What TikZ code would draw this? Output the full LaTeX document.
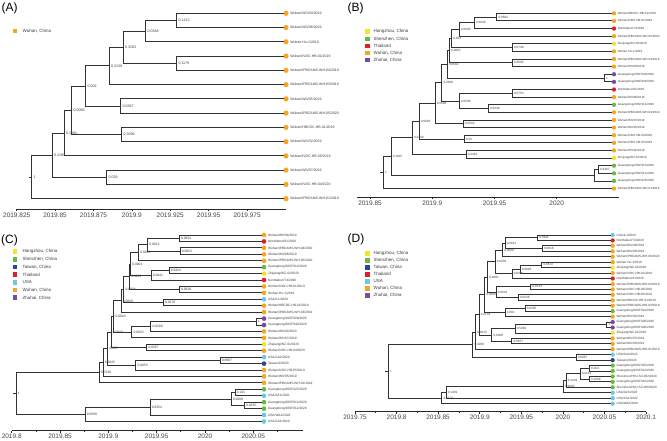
\documentclass[tikz,border=0pt]{standalone}
\usepackage{fontspec}
\setmainfont{Liberation Sans}
\usetikzlibrary{calc}
\definecolor{cWu}{RGB}{245,166,35}
\definecolor{cHz}{RGB}{236,230,45}
\definecolor{cSz}{RGB}{106,184,69}
\definecolor{cTh}{RGB}{220,32,39}
\definecolor{cTw}{RGB}{45,68,155}
\definecolor{cUS}{RGB}{108,200,228}
\definecolor{cZh}{RGB}{117,77,158}
\definecolor{brc}{RGB}{50,50,50}
\definecolor{txc}{RGB}{60,60,60}
\definecolor{axc}{RGB}{40,40,40}
\definecolor{axt}{RGB}{70,70,70}
\newdimen\tya \newdimen\tyb
\newcommand\tipnode[5]{\node[tipdot,fill=#4] (#1) at (#2,#3) {};\node[tiplab] (#1-l) at ([xshift=1.3]#1.east) {#5};}
\newcommand\linkmid[4]{%
  \pgfextracty{\tya}{\pgfpointanchor{#3}{center}}%
  \pgfextracty{\tyb}{\pgfpointanchor{#4}{center}}%
  \pgfmathsetmacro\midy{0.5*\tya+0.5*\tyb}%
  \coordinate (#1) at (#2pt,\midy pt);%
  \draw[br] (#1) |- (#3);%
  \draw[br] (#1) |- (#4);}
\newcommand\innode[5]{\linkmid{#1}{#2}{#3}{#4}\node[nlab] (#1-l) at (#1) {#5};}
\tikzset{
 br/.style={draw=brc, line width=0.85pt, line cap=rect},
 tipdot/.style={circle, inner sep=0pt, minimum size=4.6pt, draw=none},
 tiplab/.style={anchor=west, inner sep=0pt, font=\fontsize{3.2}{3.5}\selectfont, text=txc},
 nlab/.style={anchor=west, inner sep=0pt, xshift=1.6pt, font=\fontsize{3.3}{3.6}\selectfont, text=txc},
 ax/.style={draw=axc, line width=0.7pt},
 axlab/.style={inner sep=0pt, font=\fontsize{6.5}{7}\selectfont, text=axt},
 lgsq/.style={rectangle, inner sep=0pt, minimum size=4.6pt},
 lgtx/.style={anchor=west, inner sep=0pt, font=\fontsize{4.5}{5}\selectfont, text=txc},
 plab/.style={anchor=west, inner sep=0pt, font=\fontsize{12}{14}\selectfont},
}
\begin{document}
\begin{tikzpicture}[x=1pt,y=-1pt]
\useasboundingbox (0,0) rectangle (667,440);
\fill[white] (0,0) rectangle (667,440);
% ================= PANEL A =================
\begin{scope}[tiplab/.append style={font=\fontsize{3.5}{4}\selectfont}, tipdot/.append style={minimum size=5.2pt}, nlab/.append style={font=\fontsize{3.6}{4}\selectfont}]
\node[plab] (A-lab) at (1.5,8.5) {(A)};
\node[lgsq,fill=cWu] (A-lg1) at (15,31) {};
\node[lgtx] (A-lg1t) at (22.5,31) {Wuhan, China};
\tipnode{A-t1}{286}{13.30}{cWu}{Wuhan/WIV04/2019}
\tipnode{A-t2}{286}{27.56}{cWu}{Wuhan/WIV06/2019}
\tipnode{A-t3}{286}{41.82}{cWu}{Wuhan-Hu-1/2019}
\tipnode{A-t4}{286}{56.08}{cWu}{Wuhan/IVDC-HB-01/2019}
\tipnode{A-t5}{286}{70.34}{cWu}{Wuhan/IPBCAMS-WH-04/2019}
\tipnode{A-t6}{286}{84.60}{cWu}{Wuhan/IPBCAMS-WH-03/2019}
\tipnode{A-t7}{286}{98.86}{cWu}{Wuhan/WIV05/2019}
\tipnode{A-t8}{286}{113.12}{cWu}{Wuhan/IPBCAMS-WH-05/2020}
\tipnode{A-t9}{286}{127.38}{cWu}{Wuhan/HBCDC-HB-01/2019}
\tipnode{A-t10}{286}{141.64}{cWu}{Wuhan/WIV02/2019}
\tipnode{A-t11}{286}{155.90}{cWu}{Wuhan/IVDC-HB-05/2019}
\tipnode{A-t12}{286}{170.16}{cWu}{Wuhan/WIV07/2019}
\tipnode{A-t13}{286}{184.42}{cWu}{Wuhan/IVDC-HB-04/2020}
\tipnode{A-t14}{286}{198.68}{cWu}{Wuhan/IPBCAMS-WH-01/2019}
\innode{A-n1213}{176.7}{A-t1}{A-t2}{0.1213}
\innode{A-n0348}{145.7}{A-n1213}{A-t3}{0.0348}
\innode{A-n1179}{176.7}{A-t4}{A-t5}{0.1179}
\innode{A-n3203}{123.3}{A-n0348}{A-n1179}{0.3203}
\innode{A-n3139}{109.3}{A-n3203}{A-t6}{0.3139}
\innode{A-n0367}{120.7}{A-t7}{A-t8}{0.0367}
\innode{A-n002}{85.7}{A-n3139}{A-n0367}{0.002}
\innode{A-n3098}{121.7}{A-t9}{A-t10}{0.3098}
\innode{A-n0066}{71.7}{A-n002}{A-n3098}{0.0066}
\innode{A-n1081}{64.3}{A-n0066}{A-t11}{0.1081}
\innode{A-n039}{106.7}{A-t12}{A-t13}{0.039}
\innode{A-n2189}{52.3}{A-n1081}{A-n039}{0.2189}
\innode{A-root}{31.7}{A-n2189}{A-t14}{1}
\coordinate (A-stub) at ($(A-root)+(-2.5,0)$);
\draw[br] (A-root) -- (A-stub);
\coordinate (A-ax0) at (16.7,209);
\coordinate (A-ax1) at (286,209);
\draw[ax] (A-ax0) -- (A-ax1);
\foreach \xx/\lab [count=\k] in {16.7/2019.825,55.1/2019.85,93.5/2019.875,131.9/2019.9,170.3/2019.925,208.7/2019.95,247.1/2019.975}{
  \draw[ax] (\xx,209) -- (\xx,211);
  \node[axlab] (A-tk\k) at (\xx,215.5) {\lab};}
\foreach \xx in {35.9,74.3,112.7,151.1,189.5,227.9,266.3}{\draw[ax] (\xx,209) -- (\xx,210.2);}
\end{scope}
% ================= PANEL B =================
\begin{scope}[tiplab/.append style={font=\fontsize{3.0}{3.3}\selectfont}, tipdot/.append style={minimum size=4.3pt}, nlab/.append style={font=\fontsize{3.1}{3.4}\selectfont}]
\node[plab] (B-lab) at (347.5,8.5) {(B)};
\foreach \col/\txt/\yy [count=\k] in {cHz/{Hangzhou, China}/31.7, cSz/{Shenzhen, China}/38.8, cTh/Thailand/45.9, cWu/{Wuhan, China}/53.0, cZh/{Zhuhai, China}/60.1}{
  \node[lgsq,fill=\col] (B-lg\k) at (367.7,\yy) {};
  \node[lgtx] (B-lg\k t) at (373.5,\yy) {\txt};}
\tipnode{B-t1}{614}{13.30}{cWu}{Wuhan/HBCDC-HB-01/2019}
\tipnode{B-t2}{614}{20.92}{cWu}{Wuhan/IVDC-HB-01/2019}
\tipnode{B-t3}{614}{28.54}{cTh}{Nonthaburi/74/2020}
\tipnode{B-t4}{614}{36.16}{cWu}{Wuhan/IPBCAMS-WH-05/2020}
\tipnode{B-t5}{614}{43.78}{cHz}{Zhejiang/WZ-02/2020}
\tipnode{B-t6}{614}{51.40}{cWu}{Wuhan-Hu-1/2019}
\tipnode{B-t7}{614}{59.02}{cWu}{Wuhan/IPBCAMS-WH-04/2019}
\tipnode{B-t8}{614}{66.64}{cWu}{Wuhan/WIV04/2019}
\tipnode{B-t9}{614}{74.26}{cZh}{Guangdong/20SF040/2020}
\tipnode{B-t10}{614}{81.88}{cZh}{Guangdong/20SF028/2020}
\tipnode{B-t11}{614}{89.50}{cTh}{Nonthaburi/61/2020}
\tipnode{B-t12}{614}{97.12}{cWu}{Wuhan/WIV06/2019}
\tipnode{B-t13}{614}{104.74}{cSz}{Guangdong/20SF014/2020}
\tipnode{B-t14}{614}{112.36}{cWu}{Wuhan/IPBCAMS-WH-03/2019}
\tipnode{B-t15}{614}{119.98}{cWu}{Wuhan/WIV07/2019}
\tipnode{B-t16}{614}{127.60}{cWu}{Wuhan/WIV05/2019}
\tipnode{B-t17}{614}{135.22}{cWu}{Wuhan/IVDC-HB-04/2020}
\tipnode{B-t18}{614}{142.84}{cWu}{Wuhan/IVDC-HB-05/2019}
\tipnode{B-t19}{614}{150.46}{cWu}{Wuhan/WIV02/2019}
\tipnode{B-t20}{614}{158.08}{cHz}{Zhejiang/WZ-01/2020}
\tipnode{B-t21}{614}{165.70}{cSz}{Guangdong/20SF013/2020}
\tipnode{B-t22}{614}{173.32}{cSz}{Guangdong/20SF012/2020}
\tipnode{B-t23}{614}{180.94}{cSz}{Guangdong/20SF025/2020}
\tipnode{B-t24}{614}{188.56}{cWu}{Wuhan/IPBCAMS-WH-01/2019}
\innode{B-p12}{496.7}{B-t1}{B-t2}{0.0502}
\innode{B-n13}{474.3}{B-p12}{B-t3}{0.0048}
\innode{B-n14}{459.3}{B-n13}{B-t4}{0.0006}
\innode{B-p56}{512.3}{B-t5}{B-t6}{0.0748}
\innode{B-n16}{451.5}{B-n14}{B-p56}{0.002}
\innode{B-p78}{512.3}{B-t7}{B-t8}{0.3695}
\innode{B-n18}{449.5}{B-n16}{B-p78}{0.0001}
\innode{B-p910}{604.3}{B-t9}{B-t10}{1}
\innode{B-nT}{447.3}{B-n18}{B-p910}{0.0002}
\innode{B-p1112}{512.3}{B-t11}{B-t12}{0.0753}
\innode{B-p1314}{488.3}{B-t13}{B-t14}{0.0349}
\innode{B-nS}{459.3}{B-p1112}{B-p1314}{0.0508}
\innode{B-nU}{441.7}{B-nT}{B-nS}{0.0009}
\innode{B-p1516}{463.3}{B-t15}{B-t16}{0.0502}
\innode{B-nV}{435}{B-nU}{B-p1516}{0.0008}
\innode{B-p1718}{464}{B-t17}{B-t18}{0.33}
\innode{B-nW}{419}{B-nV}{B-p1718}{0.0026}
\innode{B-p1920}{466}{B-t19}{B-t20}{0.3461}
\innode{B-nY}{412.3}{B-nW}{B-p1920}{0.3439}
\innode{B-p2122}{598.3}{B-t21}{B-t22}{0.3467}
\linkmid{B-nZ}{594.3}{B-p2122}{B-t23}
\innode{B-nX}{391}{B-nY}{B-nZ}{0.1185}
\innode{B-root}{383.3}{B-nX}{B-t24}{1}
\coordinate (B-stub) at ($(B-root)+(-2.5,0)$);
\draw[br] (B-root) -- (B-stub);
\coordinate (B-ax0) at (356.7,197);
\coordinate (B-ax1) at (619,197);
\draw[ax] (B-ax0) -- (B-ax1);
\foreach \xx/\lab [count=\k] in {370/2019.85,432.2/2019.9,494.5/2019.95,556.7/2020}{
  \draw[ax] (\xx,197) -- (\xx,199);
  \node[axlab] (B-tk\k) at (\xx,203) {\lab};}
\foreach \xx in {401.1,463.4,525.6,587.8}{\draw[ax] (\xx,197) -- (\xx,198.2);}
\end{scope}
% ================= PANEL C =================
\begin{scope}[tiplab/.append style={font=\fontsize{3.2}{3.5}\selectfont}, tipdot/.append style={minimum size=4.7pt}, nlab/.append style={font=\fontsize{3.3}{3.6}\selectfont}]
\node[plab] (C-lab) at (1,240) {(C)};
\foreach \col/\txt/\yy [count=\k] in {cHz/{Hangzhou, China}/251.7, cSz/{Shenzhen, China}/259.4, cTw/{Taiwan, China}/267.0, cTh/Thailand/274.7, cUS/USA/282.4, cWu/{Wuhan, China}/290.0, cZh/{Zhuhai, China}/297.7}{
  \node[lgsq,fill=\col] (C-lg\k) at (15,\yy) {};
  \node[lgtx] (C-lg\k t) at (22.5,\yy) {\txt};}
\tipnode{C-t1}{264}{235.00}{cWu}{Wuhan/WIV04/2019}
\tipnode{C-t2}{264}{241.43}{cTh}{Nonthaburi/61/2020}
\tipnode{C-t3}{264}{247.86}{cWu}{Wuhan/IPBCAMS-WH-04/2019}
\tipnode{C-t4}{264}{254.29}{cWu}{Wuhan/WIV06/2019}
\tipnode{C-t5}{264}{260.72}{cWu}{Wuhan/IPBCAMS-WH-05/2020}
\tipnode{C-t6}{264}{267.15}{cSz}{Guangdong/20SF014/2020}
\tipnode{C-t7}{264}{273.58}{cHz}{Zhejiang/WZ-02/2020}
\tipnode{C-t8}{264}{280.01}{cTh}{Nonthaburi/74/2020}
\tipnode{C-t9}{264}{286.44}{cWu}{Wuhan/IVDC-HB-01/2019}
\tipnode{C-t10}{264}{292.87}{cWu}{Wuhan-Hu-1/2019}
\tipnode{C-t11}{264}{299.30}{cUS}{USA/IL1/2020}
\tipnode{C-t12}{264}{305.73}{cWu}{Wuhan/HBCDC-HB-01/2019}
\tipnode{C-t13}{264}{312.16}{cWu}{Wuhan/IPBCAMS-WH-03/2019}
\tipnode{C-t14}{264}{318.59}{cZh}{Guangdong/20SF028/2020}
\tipnode{C-t15}{264}{325.02}{cZh}{Guangdong/20SF040/2020}
\tipnode{C-t16}{264}{331.45}{cWu}{Wuhan/WIV02/2019}
\tipnode{C-t17}{264}{337.88}{cWu}{Wuhan/WIV07/2019}
\tipnode{C-t18}{264}{344.31}{cHz}{Zhejiang/WZ-01/2020}
\tipnode{C-t19}{264}{350.74}{cWu}{Wuhan/IVDC-HB-04/2020}
\tipnode{C-t20}{264}{357.17}{cUS}{USA/CA2/2020}
\tipnode{C-t21}{264}{363.60}{cTw}{Taiwan/2/2020}
\tipnode{C-t22}{264}{370.03}{cWu}{Wuhan/IVDC-HB-05/2019}
\tipnode{C-t23}{264}{376.46}{cWu}{Wuhan/WIV05/2019}
\tipnode{C-t24}{264}{382.89}{cWu}{Wuhan/IPBCAMS-WH-01/2019}
\tipnode{C-t25}{264}{389.32}{cSz}{Guangdong/20SF025/2020}
\tipnode{C-t26}{264}{395.75}{cUS}{USA/AZ1/2020}
\tipnode{C-t27}{264}{402.18}{cSz}{Guangdong/20SF013/2020}
\tipnode{C-t28}{264}{408.61}{cSz}{Guangdong/20SF012/2020}
\tipnode{C-t29}{264}{415.04}{cUS}{USA/WA1/2020}
\tipnode{C-t30}{264}{421.47}{cUS}{USA/CA1/2020}
\innode{C-p12}{179.3}{C-t1}{C-t2}{0.0654}
\innode{C-p34}{180}{C-t3}{C-t4}{0.0654}
\innode{C-n1}{147.5}{C-p12}{C-p34}{0.0013}
\innode{C-n2}{138.5}{C-n1}{C-t5}{0.0033}
\innode{C-p67}{169}{C-t6}{C-t7}{0.0324}
\innode{C-n4}{151}{C-p67}{C-t8}{0.0041}
\innode{C-n3}{130.5}{C-n2}{C-n4}{0.0001}
\innode{C-p910}{179.3}{C-t9}{C-t10}{0.0638}
\innode{C-n5}{129.3}{C-n3}{C-p910}{0.0003}
\innode{C-p1112}{163.3}{C-t11}{C-t12}{0.0276}
\innode{C-n6}{123.7}{C-n5}{C-p1112}{0.0004}
\innode{C-n7}{121}{C-n6}{C-t13}{0.0009}
\innode{C-p1415}{256}{C-t14}{C-t15}{1}
\innode{C-n9}{150.7}{C-p1415}{C-t16}{0.0209}
\innode{C-n10}{131.7}{C-n9}{C-t17}{0.0032}
\innode{C-n8}{113.7}{C-n7}{C-n10}{0.0004}
\innode{C-p1819}{146.7}{C-t18}{C-t19}{0.0267}
\innode{C-n11}{111}{C-n8}{C-p1819}{0.0008}
\innode{C-p2021}{220}{C-t20}{C-t21}{0.6987}
\innode{C-n12}{135.7}{C-p2021}{C-t22}{0.0053}
\innode{C-n12b}{107.7}{C-n11}{C-n12}{0.007}
\innode{C-n13}{103}{C-n12b}{C-t23}{0.0045}
\innode{C-a1}{99.3}{C-n13}{C-t24}{0.7336}
\innode{C-p2526}{235}{C-t25}{C-t26}{0.141}
\innode{C-p2728}{244.3}{C-t27}{C-t28}{0.2835}
\innode{C-nc1}{231}{C-p2526}{C-p2728}{0.9009}
\innode{C-n6354}{150}{C-nc1}{C-t29}{0.6354}
\innode{C-n6599}{85}{C-n6354}{C-t30}{0.6599}
\innode{C-root}{16}{C-a1}{C-n6599}{1}
\coordinate (C-stub) at ($(C-root)+(-2.5,0)$);
\draw[br] (C-root) -- (C-stub);
\coordinate (C-ax0) at (11.7,430.7);
\coordinate (C-ax1) at (302.7,430.7);
\draw[ax] (C-ax0) -- (C-ax1);
\foreach \xx/\lab [count=\k] in {11.7/2019.8,60/2019.85,108.3/2019.9,156.7/2019.95,205/2020,253.3/2020.05}{
  \draw[ax] (\xx,430.7) -- (\xx,432.7);
  \node[axlab] (C-tk\k) at (\xx,436.6) {\lab};}
\foreach \xx in {35.9,84.2,132.5,180.8,229.2,277.5}{\draw[ax] (\xx,430.7) -- (\xx,431.9);}
\end{scope}
% ================= PANEL D =================
\begin{scope}[tiplab/.append style={font=\fontsize{3.1}{3.4}\selectfont}, tipdot/.append style={minimum size=4.3pt}, nlab/.append style={font=\fontsize{3.1}{3.4}\selectfont}]
\node[plab] (D-lab) at (347.5,239) {(D)};
\foreach \col/\txt/\yy [count=\k] in {cHz/{Hangzhou, China}/253.3, cSz/{Shenzhen, China}/260.3, cTw/{Taiwan, China}/267.3, cTh/Thailand/274.3, cUS/USA/281.3, cWu/{Wuhan, China}/288.3, cZh/{Zhuhai, China}/295.3}{
  \node[lgsq,fill=\col] (D-lg\k) at (367.3,\yy) {};
  \node[lgtx] (D-lg\k t) at (373.5,\yy) {\txt};}
\tipnode{D-t1}{612.7}{235.00}{cUS}{USA/IL1/2020}
\tipnode{D-t2}{612.7}{240.44}{cTh}{Nonthaburi/74/2020}
\tipnode{D-t3}{612.7}{245.88}{cWu}{Wuhan/WIV06/2019}
\tipnode{D-t4}{612.7}{251.32}{cWu}{Wuhan/WIV04/2019}
\tipnode{D-t5}{612.7}{256.76}{cWu}{Wuhan/IPBCAMS-WH-05/2020}
\tipnode{D-t6}{612.7}{262.20}{cWu}{Wuhan-Hu-1/2019}
\tipnode{D-t7}{612.7}{267.64}{cHz}{Zhejiang/WZ-02/2020}
\tipnode{D-t8}{612.7}{273.08}{cWu}{Wuhan/IVDC-HB-01/2019}
\tipnode{D-t9}{612.7}{278.52}{cTh}{Nonthaburi/61/2020}
\tipnode{D-t10}{612.7}{283.96}{cWu}{Wuhan/IPBCAMS-WH-04/2019}
\tipnode{D-t11}{612.7}{289.40}{cWu}{Wuhan/IVDC-HB-04/2020}
\tipnode{D-t12}{612.7}{294.84}{cWu}{Wuhan/IVDC-HB-05/2019}
\tipnode{D-t13}{612.7}{300.28}{cWu}{Wuhan/HBCDC-HB-01/2019}
\tipnode{D-t14}{612.7}{305.72}{cWu}{Wuhan/IPBCAMS-WH-03/2019}
\tipnode{D-t15}{612.7}{311.16}{cSz}{Guangdong/20SF014/2020}
\tipnode{D-t16}{612.7}{316.60}{cWu}{Wuhan/WIV02/2019}
\tipnode{D-t17}{612.7}{322.04}{cZh}{Guangdong/20SF028/2020}
\tipnode{D-t18}{612.7}{327.48}{cZh}{Guangdong/20SF040/2020}
\tipnode{D-t19}{612.7}{332.92}{cHz}{Zhejiang/WZ-01/2020}
\tipnode{D-t20}{612.7}{338.36}{cWu}{Wuhan/WIV07/2019}
\tipnode{D-t21}{612.7}{343.80}{cWu}{Wuhan/WIV05/2019}
\tipnode{D-t22}{612.7}{349.24}{cWu}{Wuhan/IPBCAMS-WH-01/2019}
\tipnode{D-t23}{612.7}{354.68}{cUS}{USA/CA2/2020}
\tipnode{D-t24}{612.7}{360.12}{cTw}{Taiwan/2/2020}
\tipnode{D-t25}{612.7}{365.56}{cSz}{Guangdong/20SF025/2020}
\tipnode{D-t26}{612.7}{371.00}{cSz}{Guangdong/20SF013/2020}
\tipnode{D-t27}{612.7}{376.44}{cSz}{Shenzhen/HKU-SZ-002/2020}
\tipnode{D-t28}{612.7}{381.88}{cSz}{Guangdong/20SF012/2020}
\tipnode{D-t29}{612.7}{387.32}{cSz}{Shenzhen/HKU-SZ-005/2020}
\tipnode{D-t30}{612.7}{392.76}{cUS}{USA/AZ1/2020}
\tipnode{D-t31}{612.7}{398.20}{cUS}{USA/CA1/2020}
\tipnode{D-t32}{612.7}{403.64}{cUS}{USA/WA1/2020}
\innode{D-p12}{537.7}{D-t1}{D-t2}{0.0611}
\innode{D-p34}{542.3}{D-t3}{D-t4}{0.0618}
\innode{D-n0021}{505}{D-p12}{D-p34}{0.0021}
\innode{D-n0009b}{502.5}{D-n0021}{D-t5}{0.0009}
\innode{D-p67}{541.7}{D-t6}{D-t7}{0.0672}
\innode{D-n0046}{520}{D-p67}{D-t8}{0.0046}
\innode{D-n000}{512}{D-n0046}{D-t9}{0.0001}
\innode{D-n0003}{495}{D-n0009b}{D-n000}{0.0003}
\innode{D-p1011}{530.7}{D-t10}{D-t11}{0.0134}
\innode{D-p1213}{518.3}{D-t12}{D-t13}{0.0236}
\innode{D-n0001b}{496}{D-p1011}{D-p1213}{0.0001}
\innode{D-n0001a}{487.5}{D-n0003}{D-n0001b}{0.0001}
\innode{D-p1415}{525}{D-t14}{D-t15}{0.0265}
\innode{D-n001}{505}{D-p1415}{D-t16}{0.001}
\innode{D-n0009a}{484.5}{D-n0001a}{D-n001}{0.0009}
\innode{D-p1718}{606.7}{D-t17}{D-t18}{1}
\innode{D-n5282}{515}{D-p1718}{D-t19}{0.5282}
\innode{D-p2021}{511.7}{D-t20}{D-t21}{0.0567}
\innode{D-n0008}{491.7}{D-n5282}{D-p2021}{0.0008}
\innode{D-n2134}{479}{D-n0009a}{D-n0008}{0.2134}
\innode{D-n3615}{475.5}{D-n2134}{D-t22}{0.3615}
\innode{D-p2324}{576}{D-t23}{D-t24}{0.6987}
\innode{D-n4058}{472.7}{D-n3615}{D-p2324}{0.4058}
\innode{D-p2526}{589.3}{D-t25}{D-t26}{0.164}
\innode{D-p2728}{589.3}{D-t27}{D-t28}{0.1609}
\innode{D-n2161}{580}{D-p2526}{D-p2728}{0.2161}
\innode{D-n1249}{566}{D-n2161}{D-t29}{0.1249}
\innode{D-n9883}{563.3}{D-n1249}{D-t30}{0.9883}
\innode{D-n1449}{446}{D-n9883}{D-t31}{0.1449}
\innode{D-n6179}{441.7}{D-n1449}{D-t32}{0.6179}
\innode{D-root}{388.3}{D-n4058}{D-n6179}{1}
\coordinate (D-stub) at ($(D-root)+(-2.5,0)$);
\draw[br] (D-root) -- (D-stub);
\coordinate (D-ax0) at (355,411.7);
\coordinate (D-ax1) at (646,411.7);
\draw[ax] (D-ax0) -- (D-ax1);
\foreach \xx/\lab [count=\k] in {355/2019.75,396.6/2019.8,438.1/2019.85,479.7/2019.9,521.3/2019.95,562.9/2020,604.4/2020.05,646/2020.1}{
  \draw[ax] (\xx,411.7) -- (\xx,413.7);
  \node[axlab] (D-tk\k) at (\xx,417.5) {\lab};}
\foreach \xx in {375.8,417.4,458.9,500.5,542.1,583.7,625.2}{\draw[ax] (\xx,411.7) -- (\xx,412.9);}
\end{scope}
\end{tikzpicture}
\end{document}
